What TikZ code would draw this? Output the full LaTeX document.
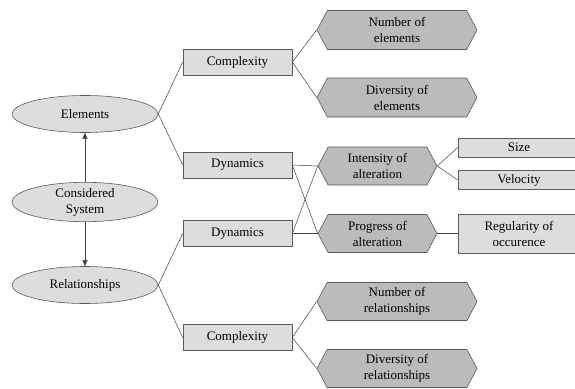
\documentclass[tikz,border=0pt]{standalone}
\usepackage{fontspec}
\setmainfont{Liberation Serif}
\usetikzlibrary{shapes.geometric,shapes.symbols,arrows.meta}
\definecolor{lightfill}{HTML}{DDDDDD}
\definecolor{darkfill}{HTML}{BBBBBB}
\definecolor{edgecol}{HTML}{5A5A5A}
\definecolor{linecol}{HTML}{404040}
\begin{document}
\begin{tikzpicture}[x=1pt,y=-1pt,
  font=\fontsize{13}{16}\selectfont,
  every node/.style={align=center, inner sep=0pt, draw=edgecol, line width=0.6pt},
  ell/.style={ellipse, fill=lightfill, minimum width=146pt, minimum height=37pt},
  box/.style={rectangle, fill=lightfill, minimum width=109pt, minimum height=26pt},
  rbox/.style={rectangle, fill=lightfill, minimum width=122pt},
  hex/.style={signal, signal from=nowhere, signal to=east and west, signal pointer angle=124, fill=darkfill, minimum height=39pt},
  conn/.style={draw=linecol, line width=0.5pt},
  arr/.style={conn, -{Triangle[length=6pt,width=5pt]}}
]
\useasboundingbox (0,0) rectangle (575,388);
\clip (0,0) rectangle (575,388);
% ellipses
\node[ell] (el) at (85,114) {Elements};
\node[ell] (cs) at (85,202) {Considered\\System};
\node[ell] (rel) at (85,285) {Relationships};
% level 1 boxes
\node[box] (c1) at (237.5,62) {Complexity};
\node[box] (d1) at (237.5,165) {Dynamics};
\node[box] (d2) at (237.5,233.5) {Dynamics};
\node[box] (c2) at (237.5,337.5) {Complexity};
% hexagons
\node[hex, minimum width=160pt] (ne) at (397,30) {Number of\\elements};
\node[hex, minimum width=160pt] (de) at (397,97.5) {Diversity of\\elements};
\node[hex, minimum width=119pt, minimum height=38pt] (ia) at (377.5,166) {Intensity of\\alteration};
\node[hex, minimum width=119pt, minimum height=38pt] (pa) at (377.5,233.5) {Progress of\\alteration};
\node[hex, minimum width=160pt, minimum height=38pt] (nr) at (397,301.5) {Number of\\relationships};
\node[hex, minimum width=160pt, minimum height=38pt] (dr) at (397,368.5) {Diversity of\\relationships};
% right boxes
\node[rbox, minimum height=19pt] (sz) at (519,147.5) {Size};
\node[rbox, minimum height=19pt] (ve) at (519,180) {Velocity};
\node[rbox, minimum height=39pt] (ro) at (519,233.5) {Regularity of\\occurence};
% arrows
\draw[arr] (cs) -- (el);
\draw[arr] (cs) -- (rel);
% connectors
\draw[conn] (el.east) -- (c1.west);
\draw[conn] (el.east) -- (d1.west);
\draw[conn] (rel.east) -- (d2.west);
\draw[conn] (rel.east) -- (c2.west);
\draw[conn] (c1.east) -- (ne.west);
\draw[conn] (c1.east) -- (de.west);
\draw[conn] (d1.east) -- (ia.west);
\draw[conn] (d1.east) -- (pa.west);
\draw[conn] (d2.east) -- (pa.west);
\draw[conn] (d2.east) -- (ia.west);
\draw[conn] (c2.east) -- (nr.west);
\draw[conn] (c2.east) -- (dr.west);
\draw[conn] (ia.east) -- (sz.west);
\draw[conn] (ia.east) -- (ve.west);
\draw[conn] (pa.east) -- (ro.west);
\end{tikzpicture}
\end{document}
